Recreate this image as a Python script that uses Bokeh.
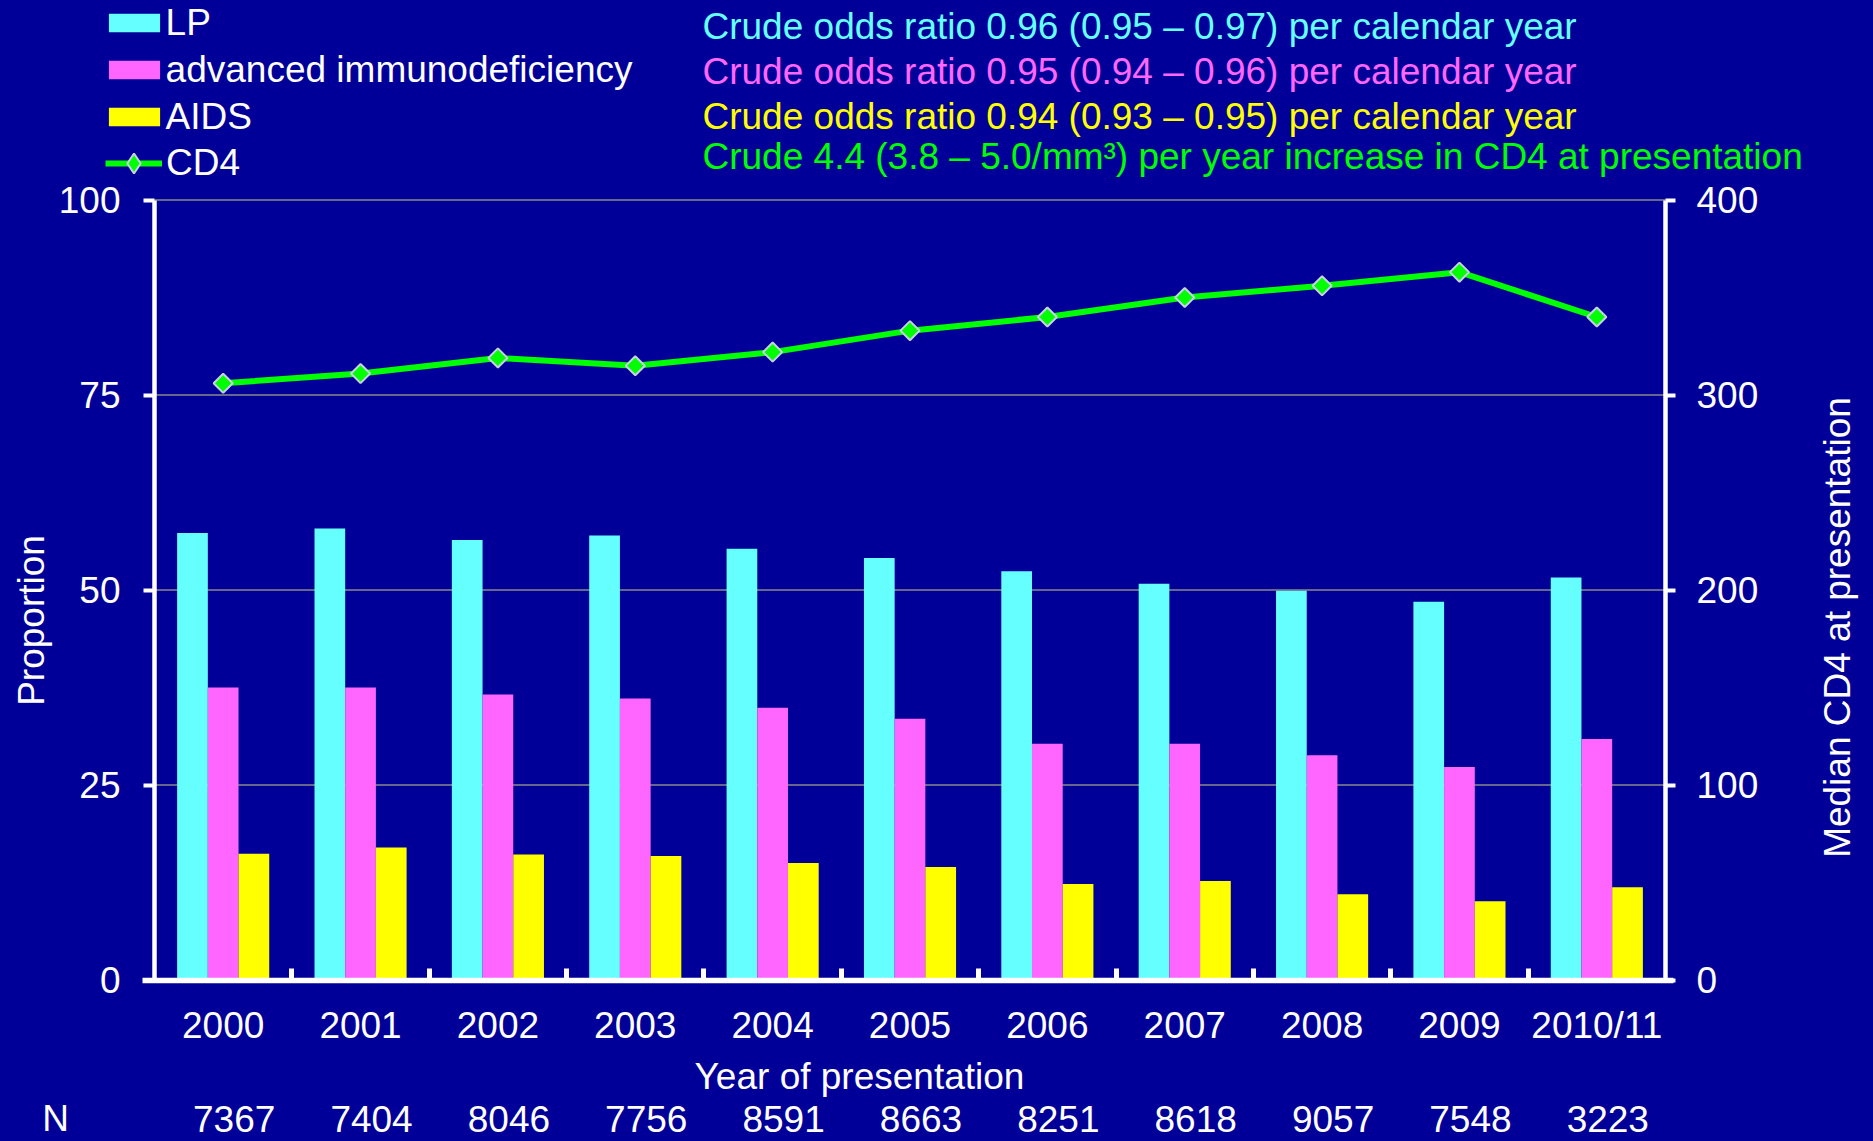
import numpy as np
from bokeh.plotting import figure
from bokeh.models import (ColumnDataSource, Range1d, LinearAxis, FixedTicker,
                          Legend, LegendItem, Label, LabelSet)
from bokeh.transform import dodge
from bokeh.core.properties import value
from bokeh.embed import file_html
from bokeh.resources import INLINE

# ---------------- data ----------------
years = ["2000", "2001", "2002", "2003", "2004", "2005", "2006", "2007", "2008", "2009", "2010/11"]
lp = [57.3, 57.9, 56.4, 57.0, 55.3, 54.1, 52.4, 50.8, 49.9, 48.5, 51.6]
advanced = [37.5, 37.5, 36.6, 36.1, 34.9, 33.5, 30.3, 30.3, 28.8, 27.3, 30.9]
aids = [16.2, 17.0, 16.1, 15.9, 15.0, 14.5, 12.3, 12.7, 11.0, 10.1, 11.9]
cd4 = [306, 311, 319, 315, 322, 333, 340, 350, 356, 363, 340]
n_counts = ["7367", "7404", "8046", "7756", "8591", "8663", "8251", "8618", "9057", "7548", "3223"]
prop_ticks = [0, 25, 50, 75, 100]
cd4_ticks = [0, 100, 200, 300, 400]
series_names = ["LP", "advanced immunodeficiency", "AIDS", "CD4"]
stats_lines = [
    "Crude odds ratio 0.96 (0.95 \u2013 0.97) per calendar year",
    "Crude odds ratio 0.95 (0.94 \u2013 0.96) per calendar year",
    "Crude odds ratio 0.94 (0.93 \u2013 0.95) per calendar year",
    "Crude 4.4 (3.8 \u2013 5.0/mm\u00b3) per year increase in CD4 at presentation",
]

# ---------------- style / layout ----------------
BG = "#000099"
C_LP = "#66FFFF"
C_ADV = "#FF66FF"
C_AIDS = "#FFFF00"
C_CD4 = "#00FF00"
FONT = "Liberation Sans"
FS = "37px"

W, H = 1873, 1141
AX_L, AX_R = 154.0, 1665.0        # pixel x of left / right value axes
AX_TOP, AX_BOT = 199.5, 979.5     # pixel y of 100 % and 0 %

ncat = len(years)
cat_px = (AX_R - AX_L) / ncat
x_start = (0 - AX_L) / cat_px - 0.5
x_end = (W - AX_L) / cat_px - 0.5
ppu = (AX_BOT - AX_TOP) / (prop_ticks[-1] - prop_ticks[0])
y_start = -(H - AX_BOT) / ppu
y_end = AX_BOT / ppu
cd4_scale = cd4_ticks[-1] / prop_ticks[-1]


def sx(X):
    return X


def sy(Y):
    return H - Y


xi = list(range(ncat))
src = ColumnDataSource(dict(xi=xi, year=years, lp=lp, adv=advanced, aids=aids, cd4=cd4, n=n_counts))
gsrc = ColumnDataSource(dict(y=prop_ticks[1:]))

p = figure(x_range=Range1d(x_start, x_end), y_range=Range1d(y_start, y_end),
           width=W, height=H, min_border=0, title=None,
           output_backend="svg", toolbar_location=None)
p.background_fill_color = BG
p.border_fill_color = BG
p.outline_line_color = None
p.extra_y_ranges = {"cd4": Range1d(y_start * cd4_scale, y_end * cd4_scale)}
p.xgrid.visible = False
p.ygrid.visible = False

lo, hi = -0.5, ncat - 0.5

# grid lines
p.segment(x0=lo, x1=hi, y0="y", y1="y", source=gsrc, line_color="#8a8a8a", line_width=1.5)

bw = 0.2235
r_lp = p.vbar(x=dodge("xi", -bw), top="lp", width=bw, source=src,
              fill_color=C_LP, line_color=None)
r_adv = p.vbar(x=dodge("xi", 0), top="adv", width=bw, source=src,
               fill_color=C_ADV, line_color=None)
r_aids = p.vbar(x=dodge("xi", bw), top="aids", width=bw, source=src,
                fill_color=C_AIDS, line_color=None)

r_line = p.line(x="xi", y="cd4", source=src, y_range_name="cd4",
                line_color=C_CD4, line_width=6)
r_pts = p.scatter(x="xi", y="cd4", source=src, y_range_name="cd4",
                  marker="square", angle=np.pi / 4, size=13.5,
                  fill_color=C_CD4, line_color="#C8D0E8", line_width=2)
# legend-only swatch for the CD4 marker (legends draw markers unrotated)
r_pts_key = p.scatter(x="xi", y="cd4", source=src, y_range_name="cd4",
                      marker="diamond", size=14, visible=False,
                      fill_color=C_CD4, line_color="#C8D0E8", line_width=2)

# bottom (category) axis
xa = p.xaxis[0]
xa.fixed_location = 0
xa.bounds = (lo - 0.085, hi + 0.06)
xa.ticker = FixedTicker(ticks=xi, minor_ticks=[i + 0.5 for i in xi[:-1]])
xa.major_label_overrides = {i: years[i] for i in xi}
xa.axis_line_color = "white"
xa.axis_line_width = 5.5
xa.major_tick_line_color = None
xa.minor_tick_line_color = "white"
xa.minor_tick_line_width = 5
xa.minor_tick_in = 12
xa.minor_tick_out = 0
xa.major_label_text_color = "white"
xa.major_label_text_font = FONT
xa.major_label_text_font_size = FS
xa.major_label_standoff = 19

# left axis
ya = p.yaxis[0]
ya.fixed_location = lo
ya.bounds = (prop_ticks[0], prop_ticks[-1])
ya.ticker = FixedTicker(ticks=prop_ticks)
ya.axis_line_color = "white"
ya.axis_line_width = 4.5
ya.major_tick_line_color = "white"
ya.major_tick_line_width = 4
ya.major_tick_out = 11
ya.major_tick_in = 0
ya.minor_tick_line_color = None
ya.major_label_text_color = "white"
ya.major_label_text_font = FONT
ya.major_label_text_font_size = FS
ya.major_label_standoff = 23

# right axis
ra = LinearAxis(y_range_name="cd4", ticker=FixedTicker(ticks=cd4_ticks))
ra.fixed_location = hi
ra.bounds = (cd4_ticks[0], cd4_ticks[-1])
ra.axis_line_color = "white"
ra.axis_line_width = 4.5
ra.major_tick_line_color = "white"
ra.major_tick_line_width = 4
ra.major_tick_out = 10
ra.major_tick_in = 0
ra.minor_tick_line_color = None
ra.major_label_text_color = "white"
ra.major_label_text_font = FONT
ra.major_label_text_font_size = FS
ra.major_label_standoff = 21
p.add_layout(ra, "right")

# legends (bars, then CD4 line with its own glyph size)
leg_common = dict(orientation="vertical", padding=0, margin=0, spacing=0,
                  label_text_font=FONT, label_text_font_size=FS, label_text_color="white",
                  background_fill_alpha=0, border_line_alpha=0, inactive_fill_alpha=0)
legend_bars = Legend(items=[
    LegendItem(label=series_names[0], renderers=[r_lp]),
    LegendItem(label=series_names[1], renderers=[r_adv]),
    LegendItem(label=series_names[2], renderers=[r_aids]),
], location=(sx(101.6), sy(140)), glyph_width=64, glyph_height=23, label_height=47,
    label_standoff=0, **leg_common)
legend_line = Legend(items=[
    LegendItem(label=series_names[3], renderers=[r_line, r_pts_key]),
], location=(sx(105), sy(188)), glyph_width=57, glyph_height=50, label_height=50,
    label_standoff=4, **leg_common)
p.add_layout(legend_bars)
p.add_layout(legend_line)

# statistics text (top right)
stat_colors = [C_LP, C_ADV, C_AIDS, C_CD4]
stat_y = [26, 71, 116, 156]
for txt, col, yy in zip(stats_lines, stat_colors, stat_y):
    p.add_layout(Label(x=sx(702), y=sy(yy), x_units="screen", y_units="screen", text=txt,
                       text_color=col, text_font=FONT, text_font_size=FS,
                       text_align="left", text_baseline="middle"))

# axis titles
p.add_layout(Label(x=sx(30.5), y=sy(620), x_units="screen", y_units="screen", text="Proportion",
                   angle=np.pi / 2, text_color="white", text_font=FONT, text_font_size=FS,
                   text_align="center", text_baseline="middle"))
p.add_layout(Label(x=sx(1837), y=sy(627), x_units="screen", y_units="screen",
                   text="Median CD4 at presentation", angle=np.pi / 2, text_color="white",
                   text_font=FONT, text_font_size=FS, text_align="center", text_baseline="middle"))
p.add_layout(Label(x=sx(859), y=sy(1076), x_units="screen", y_units="screen",
                   text="Year of presentation", text_color="white", text_font=FONT,
                   text_font_size=FS, text_align="center", text_baseline="middle"))

# N row
p.add_layout(Label(x=sx(55), y=sy(1118), x_units="screen", y_units="screen", text="N",
                   text_color="white", text_font=FONT, text_font_size=FS,
                   text_align="center", text_baseline="middle"))
p.add_layout(LabelSet(x=dodge("xi", 0.08), y=sy(1118), y_units="screen",
                      text="n", source=src, text_color="white", text_font=value(FONT),
                      text_font_size=value(FS), text_align="center", text_baseline="middle"))

html = file_html(p, INLINE).replace("<body>", '<body style="background:%s">' % BG)
open("out.html", "w").write(html)
